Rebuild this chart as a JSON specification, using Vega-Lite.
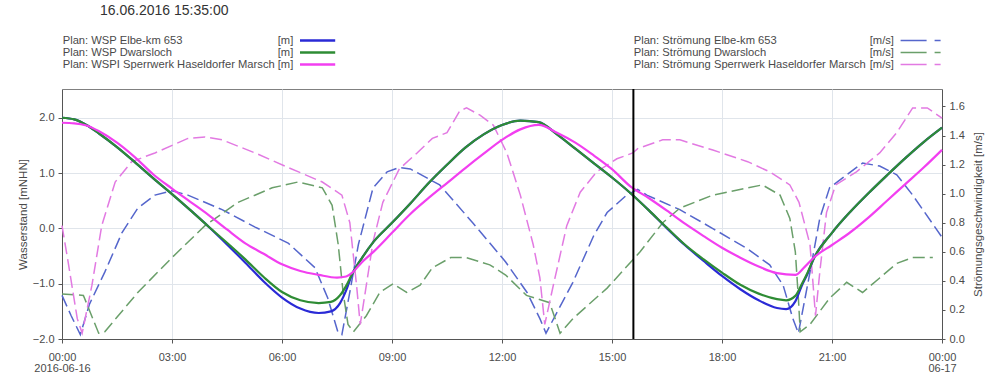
{
  "$schema": "https://vega.github.io/schema/vega-lite/v6.json",
  "width": 880,
  "height": 250,
  "autosize": {"type": "none"},
  "padding": {"left": 62, "top": 89, "right": 46, "bottom": 39},
  "background": "white",
  "title": {"text": "16.06.2016 15:35:00", "anchor": "start", "frame": "group", "dx": 38, "offset": 17, "fontSize": 14, "fontWeight": "normal", "color": "#333333"},
  "config": {
    "font": "Liberation Sans",
    "view": {"stroke": "#808080", "strokeWidth": 1},
    "axis": {"labelFontSize": 11, "labelColor": "#4a4a4a", "titleFontSize": 11.5, "titleFontWeight": "normal", "titleColor": "#4a4a4a", "domainColor": "#555555", "tickColor": "#555555", "gridColor": "#e0e5eb"},
    "legend": {"labelFontSize": 11.2, "labelColor": "#4a4a4a", "padding": 0, "rowPadding": 0, "labelLimit": 400}
  },
  "datasets": {
    "waterlevel": [
      {"time": "2016-06-16T00:00", "series": "Plan: WSP Elbe-km 653", "value": 2.00},
      {"time": "2016-06-16T00:20", "series": "Plan: WSP Elbe-km 653", "value": 1.97},
      {"time": "2016-06-16T00:40", "series": "Plan: WSP Elbe-km 653", "value": 1.87},
      {"time": "2016-06-16T01:00", "series": "Plan: WSP Elbe-km 653", "value": 1.72},
      {"time": "2016-06-16T01:30", "series": "Plan: WSP Elbe-km 653", "value": 1.47},
      {"time": "2016-06-16T02:00", "series": "Plan: WSP Elbe-km 653", "value": 1.19},
      {"time": "2016-06-16T02:30", "series": "Plan: WSP Elbe-km 653", "value": 0.90},
      {"time": "2016-06-16T03:00", "series": "Plan: WSP Elbe-km 653", "value": 0.62},
      {"time": "2016-06-16T03:30", "series": "Plan: WSP Elbe-km 653", "value": 0.33},
      {"time": "2016-06-16T04:00", "series": "Plan: WSP Elbe-km 653", "value": 0.03},
      {"time": "2016-06-16T04:30", "series": "Plan: WSP Elbe-km 653", "value": -0.29},
      {"time": "2016-06-16T05:00", "series": "Plan: WSP Elbe-km 653", "value": -0.62},
      {"time": "2016-06-16T05:30", "series": "Plan: WSP Elbe-km 653", "value": -0.96},
      {"time": "2016-06-16T06:00", "series": "Plan: WSP Elbe-km 653", "value": -1.25},
      {"time": "2016-06-16T06:30", "series": "Plan: WSP Elbe-km 653", "value": -1.45},
      {"time": "2016-06-16T07:00", "series": "Plan: WSP Elbe-km 653", "value": -1.53},
      {"time": "2016-06-16T07:20", "series": "Plan: WSP Elbe-km 653", "value": -1.50},
      {"time": "2016-06-16T07:35", "series": "Plan: WSP Elbe-km 653", "value": -1.35},
      {"time": "2016-06-16T07:45", "series": "Plan: WSP Elbe-km 653", "value": -1.12},
      {"time": "2016-06-16T07:55", "series": "Plan: WSP Elbe-km 653", "value": -0.82},
      {"time": "2016-06-16T08:10", "series": "Plan: WSP Elbe-km 653", "value": -0.55},
      {"time": "2016-06-16T08:30", "series": "Plan: WSP Elbe-km 653", "value": -0.24},
      {"time": "2016-06-16T09:00", "series": "Plan: WSP Elbe-km 653", "value": 0.10},
      {"time": "2016-06-16T09:30", "series": "Plan: WSP Elbe-km 653", "value": 0.45},
      {"time": "2016-06-16T10:00", "series": "Plan: WSP Elbe-km 653", "value": 0.82},
      {"time": "2016-06-16T10:30", "series": "Plan: WSP Elbe-km 653", "value": 1.15},
      {"time": "2016-06-16T11:00", "series": "Plan: WSP Elbe-km 653", "value": 1.46},
      {"time": "2016-06-16T11:30", "series": "Plan: WSP Elbe-km 653", "value": 1.70},
      {"time": "2016-06-16T12:00", "series": "Plan: WSP Elbe-km 653", "value": 1.87},
      {"time": "2016-06-16T12:30", "series": "Plan: WSP Elbe-km 653", "value": 1.95},
      {"time": "2016-06-16T13:00", "series": "Plan: WSP Elbe-km 653", "value": 1.92},
      {"time": "2016-06-16T13:30", "series": "Plan: WSP Elbe-km 653", "value": 1.70},
      {"time": "2016-06-16T14:00", "series": "Plan: WSP Elbe-km 653", "value": 1.44},
      {"time": "2016-06-16T14:30", "series": "Plan: WSP Elbe-km 653", "value": 1.18},
      {"time": "2016-06-16T15:00", "series": "Plan: WSP Elbe-km 653", "value": 0.92},
      {"time": "2016-06-16T15:30", "series": "Plan: WSP Elbe-km 653", "value": 0.64},
      {"time": "2016-06-16T16:00", "series": "Plan: WSP Elbe-km 653", "value": 0.33},
      {"time": "2016-06-16T16:30", "series": "Plan: WSP Elbe-km 653", "value": 0.00},
      {"time": "2016-06-16T17:00", "series": "Plan: WSP Elbe-km 653", "value": -0.31},
      {"time": "2016-06-16T17:30", "series": "Plan: WSP Elbe-km 653", "value": -0.59},
      {"time": "2016-06-16T18:00", "series": "Plan: WSP Elbe-km 653", "value": -0.86},
      {"time": "2016-06-16T18:30", "series": "Plan: WSP Elbe-km 653", "value": -1.10},
      {"time": "2016-06-16T19:00", "series": "Plan: WSP Elbe-km 653", "value": -1.30},
      {"time": "2016-06-16T19:30", "series": "Plan: WSP Elbe-km 653", "value": -1.44},
      {"time": "2016-06-16T19:45", "series": "Plan: WSP Elbe-km 653", "value": -1.46},
      {"time": "2016-06-16T20:00", "series": "Plan: WSP Elbe-km 653", "value": -1.32},
      {"time": "2016-06-16T20:10", "series": "Plan: WSP Elbe-km 653", "value": -1.05},
      {"time": "2016-06-16T20:20", "series": "Plan: WSP Elbe-km 653", "value": -0.82},
      {"time": "2016-06-16T20:30", "series": "Plan: WSP Elbe-km 653", "value": -0.55},
      {"time": "2016-06-16T21:00", "series": "Plan: WSP Elbe-km 653", "value": -0.08},
      {"time": "2016-06-16T21:30", "series": "Plan: WSP Elbe-km 653", "value": 0.30},
      {"time": "2016-06-16T22:00", "series": "Plan: WSP Elbe-km 653", "value": 0.64},
      {"time": "2016-06-16T22:30", "series": "Plan: WSP Elbe-km 653", "value": 0.96},
      {"time": "2016-06-16T23:00", "series": "Plan: WSP Elbe-km 653", "value": 1.27},
      {"time": "2016-06-16T23:30", "series": "Plan: WSP Elbe-km 653", "value": 1.56},
      {"time": "2016-06-17T00:00", "series": "Plan: WSP Elbe-km 653", "value": 1.82},

      {"time": "2016-06-16T00:00", "series": "Plan: WSP Dwarsloch", "value": 2.00},
      {"time": "2016-06-16T00:20", "series": "Plan: WSP Dwarsloch", "value": 1.97},
      {"time": "2016-06-16T00:40", "series": "Plan: WSP Dwarsloch", "value": 1.87},
      {"time": "2016-06-16T01:00", "series": "Plan: WSP Dwarsloch", "value": 1.72},
      {"time": "2016-06-16T01:30", "series": "Plan: WSP Dwarsloch", "value": 1.47},
      {"time": "2016-06-16T02:00", "series": "Plan: WSP Dwarsloch", "value": 1.19},
      {"time": "2016-06-16T02:30", "series": "Plan: WSP Dwarsloch", "value": 0.90},
      {"time": "2016-06-16T03:00", "series": "Plan: WSP Dwarsloch", "value": 0.62},
      {"time": "2016-06-16T03:30", "series": "Plan: WSP Dwarsloch", "value": 0.33},
      {"time": "2016-06-16T04:00", "series": "Plan: WSP Dwarsloch", "value": 0.03},
      {"time": "2016-06-16T04:30", "series": "Plan: WSP Dwarsloch", "value": -0.26},
      {"time": "2016-06-16T05:00", "series": "Plan: WSP Dwarsloch", "value": -0.56},
      {"time": "2016-06-16T05:30", "series": "Plan: WSP Dwarsloch", "value": -0.88},
      {"time": "2016-06-16T06:00", "series": "Plan: WSP Dwarsloch", "value": -1.15},
      {"time": "2016-06-16T06:30", "series": "Plan: WSP Dwarsloch", "value": -1.30},
      {"time": "2016-06-16T07:00", "series": "Plan: WSP Dwarsloch", "value": -1.35},
      {"time": "2016-06-16T07:20", "series": "Plan: WSP Dwarsloch", "value": -1.33},
      {"time": "2016-06-16T07:35", "series": "Plan: WSP Dwarsloch", "value": -1.21},
      {"time": "2016-06-16T07:45", "series": "Plan: WSP Dwarsloch", "value": -1.04},
      {"time": "2016-06-16T07:55", "series": "Plan: WSP Dwarsloch", "value": -0.82},
      {"time": "2016-06-16T08:10", "series": "Plan: WSP Dwarsloch", "value": -0.55},
      {"time": "2016-06-16T08:30", "series": "Plan: WSP Dwarsloch", "value": -0.24},
      {"time": "2016-06-16T09:00", "series": "Plan: WSP Dwarsloch", "value": 0.10},
      {"time": "2016-06-16T09:30", "series": "Plan: WSP Dwarsloch", "value": 0.45},
      {"time": "2016-06-16T10:00", "series": "Plan: WSP Dwarsloch", "value": 0.82},
      {"time": "2016-06-16T10:30", "series": "Plan: WSP Dwarsloch", "value": 1.15},
      {"time": "2016-06-16T11:00", "series": "Plan: WSP Dwarsloch", "value": 1.46},
      {"time": "2016-06-16T11:30", "series": "Plan: WSP Dwarsloch", "value": 1.70},
      {"time": "2016-06-16T12:00", "series": "Plan: WSP Dwarsloch", "value": 1.87},
      {"time": "2016-06-16T12:30", "series": "Plan: WSP Dwarsloch", "value": 1.95},
      {"time": "2016-06-16T13:00", "series": "Plan: WSP Dwarsloch", "value": 1.92},
      {"time": "2016-06-16T13:30", "series": "Plan: WSP Dwarsloch", "value": 1.70},
      {"time": "2016-06-16T14:00", "series": "Plan: WSP Dwarsloch", "value": 1.44},
      {"time": "2016-06-16T14:30", "series": "Plan: WSP Dwarsloch", "value": 1.18},
      {"time": "2016-06-16T15:00", "series": "Plan: WSP Dwarsloch", "value": 0.92},
      {"time": "2016-06-16T15:30", "series": "Plan: WSP Dwarsloch", "value": 0.64},
      {"time": "2016-06-16T16:00", "series": "Plan: WSP Dwarsloch", "value": 0.33},
      {"time": "2016-06-16T16:30", "series": "Plan: WSP Dwarsloch", "value": 0.01},
      {"time": "2016-06-16T17:00", "series": "Plan: WSP Dwarsloch", "value": -0.30},
      {"time": "2016-06-16T17:30", "series": "Plan: WSP Dwarsloch", "value": -0.56},
      {"time": "2016-06-16T18:00", "series": "Plan: WSP Dwarsloch", "value": -0.80},
      {"time": "2016-06-16T18:30", "series": "Plan: WSP Dwarsloch", "value": -1.02},
      {"time": "2016-06-16T19:00", "series": "Plan: WSP Dwarsloch", "value": -1.18},
      {"time": "2016-06-16T19:30", "series": "Plan: WSP Dwarsloch", "value": -1.28},
      {"time": "2016-06-16T19:45", "series": "Plan: WSP Dwarsloch", "value": -1.30},
      {"time": "2016-06-16T20:00", "series": "Plan: WSP Dwarsloch", "value": -1.22},
      {"time": "2016-06-16T20:10", "series": "Plan: WSP Dwarsloch", "value": -1.02},
      {"time": "2016-06-16T20:20", "series": "Plan: WSP Dwarsloch", "value": -0.80},
      {"time": "2016-06-16T20:30", "series": "Plan: WSP Dwarsloch", "value": -0.55},
      {"time": "2016-06-16T21:00", "series": "Plan: WSP Dwarsloch", "value": -0.08},
      {"time": "2016-06-16T21:30", "series": "Plan: WSP Dwarsloch", "value": 0.30},
      {"time": "2016-06-16T22:00", "series": "Plan: WSP Dwarsloch", "value": 0.64},
      {"time": "2016-06-16T22:30", "series": "Plan: WSP Dwarsloch", "value": 0.96},
      {"time": "2016-06-16T23:00", "series": "Plan: WSP Dwarsloch", "value": 1.27},
      {"time": "2016-06-16T23:30", "series": "Plan: WSP Dwarsloch", "value": 1.56},
      {"time": "2016-06-17T00:00", "series": "Plan: WSP Dwarsloch", "value": 1.82},

      {"time": "2016-06-16T00:00", "series": "Plan: WSPI Sperrwerk Haseldorfer Marsch", "value": 1.91},
      {"time": "2016-06-16T00:20", "series": "Plan: WSPI Sperrwerk Haseldorfer Marsch", "value": 1.90},
      {"time": "2016-06-16T00:40", "series": "Plan: WSPI Sperrwerk Haseldorfer Marsch", "value": 1.86},
      {"time": "2016-06-16T01:00", "series": "Plan: WSPI Sperrwerk Haseldorfer Marsch", "value": 1.76},
      {"time": "2016-06-16T01:30", "series": "Plan: WSPI Sperrwerk Haseldorfer Marsch", "value": 1.55},
      {"time": "2016-06-16T02:00", "series": "Plan: WSPI Sperrwerk Haseldorfer Marsch", "value": 1.28},
      {"time": "2016-06-16T02:30", "series": "Plan: WSPI Sperrwerk Haseldorfer Marsch", "value": 0.97},
      {"time": "2016-06-16T03:00", "series": "Plan: WSPI Sperrwerk Haseldorfer Marsch", "value": 0.72},
      {"time": "2016-06-16T03:30", "series": "Plan: WSPI Sperrwerk Haseldorfer Marsch", "value": 0.48},
      {"time": "2016-06-16T04:00", "series": "Plan: WSPI Sperrwerk Haseldorfer Marsch", "value": 0.24},
      {"time": "2016-06-16T04:30", "series": "Plan: WSPI Sperrwerk Haseldorfer Marsch", "value": -0.02},
      {"time": "2016-06-16T05:00", "series": "Plan: WSPI Sperrwerk Haseldorfer Marsch", "value": -0.27},
      {"time": "2016-06-16T05:30", "series": "Plan: WSPI Sperrwerk Haseldorfer Marsch", "value": -0.46},
      {"time": "2016-06-16T06:00", "series": "Plan: WSPI Sperrwerk Haseldorfer Marsch", "value": -0.65},
      {"time": "2016-06-16T06:30", "series": "Plan: WSPI Sperrwerk Haseldorfer Marsch", "value": -0.77},
      {"time": "2016-06-16T07:00", "series": "Plan: WSPI Sperrwerk Haseldorfer Marsch", "value": -0.84},
      {"time": "2016-06-16T07:30", "series": "Plan: WSPI Sperrwerk Haseldorfer Marsch", "value": -0.89},
      {"time": "2016-06-16T07:45", "series": "Plan: WSPI Sperrwerk Haseldorfer Marsch", "value": -0.87},
      {"time": "2016-06-16T07:55", "series": "Plan: WSPI Sperrwerk Haseldorfer Marsch", "value": -0.80},
      {"time": "2016-06-16T08:10", "series": "Plan: WSPI Sperrwerk Haseldorfer Marsch", "value": -0.62},
      {"time": "2016-06-16T08:30", "series": "Plan: WSPI Sperrwerk Haseldorfer Marsch", "value": -0.42},
      {"time": "2016-06-16T09:00", "series": "Plan: WSPI Sperrwerk Haseldorfer Marsch", "value": -0.08},
      {"time": "2016-06-16T09:30", "series": "Plan: WSPI Sperrwerk Haseldorfer Marsch", "value": 0.26},
      {"time": "2016-06-16T10:00", "series": "Plan: WSPI Sperrwerk Haseldorfer Marsch", "value": 0.55},
      {"time": "2016-06-16T10:30", "series": "Plan: WSPI Sperrwerk Haseldorfer Marsch", "value": 0.82},
      {"time": "2016-06-16T11:00", "series": "Plan: WSPI Sperrwerk Haseldorfer Marsch", "value": 1.09},
      {"time": "2016-06-16T11:30", "series": "Plan: WSPI Sperrwerk Haseldorfer Marsch", "value": 1.35},
      {"time": "2016-06-16T12:00", "series": "Plan: WSPI Sperrwerk Haseldorfer Marsch", "value": 1.60},
      {"time": "2016-06-16T12:30", "series": "Plan: WSPI Sperrwerk Haseldorfer Marsch", "value": 1.79},
      {"time": "2016-06-16T13:00", "series": "Plan: WSPI Sperrwerk Haseldorfer Marsch", "value": 1.87},
      {"time": "2016-06-16T13:30", "series": "Plan: WSPI Sperrwerk Haseldorfer Marsch", "value": 1.73},
      {"time": "2016-06-16T14:00", "series": "Plan: WSPI Sperrwerk Haseldorfer Marsch", "value": 1.55},
      {"time": "2016-06-16T14:30", "series": "Plan: WSPI Sperrwerk Haseldorfer Marsch", "value": 1.32},
      {"time": "2016-06-16T15:00", "series": "Plan: WSPI Sperrwerk Haseldorfer Marsch", "value": 1.07},
      {"time": "2016-06-16T15:30", "series": "Plan: WSPI Sperrwerk Haseldorfer Marsch", "value": 0.76},
      {"time": "2016-06-16T16:00", "series": "Plan: WSPI Sperrwerk Haseldorfer Marsch", "value": 0.55},
      {"time": "2016-06-16T16:30", "series": "Plan: WSPI Sperrwerk Haseldorfer Marsch", "value": 0.32},
      {"time": "2016-06-16T17:00", "series": "Plan: WSPI Sperrwerk Haseldorfer Marsch", "value": 0.08},
      {"time": "2016-06-16T17:30", "series": "Plan: WSPI Sperrwerk Haseldorfer Marsch", "value": -0.14},
      {"time": "2016-06-16T18:00", "series": "Plan: WSPI Sperrwerk Haseldorfer Marsch", "value": -0.35},
      {"time": "2016-06-16T18:30", "series": "Plan: WSPI Sperrwerk Haseldorfer Marsch", "value": -0.53},
      {"time": "2016-06-16T19:00", "series": "Plan: WSPI Sperrwerk Haseldorfer Marsch", "value": -0.69},
      {"time": "2016-06-16T19:30", "series": "Plan: WSPI Sperrwerk Haseldorfer Marsch", "value": -0.81},
      {"time": "2016-06-16T20:00", "series": "Plan: WSPI Sperrwerk Haseldorfer Marsch", "value": -0.84},
      {"time": "2016-06-16T20:15", "series": "Plan: WSPI Sperrwerk Haseldorfer Marsch", "value": -0.70},
      {"time": "2016-06-16T20:30", "series": "Plan: WSPI Sperrwerk Haseldorfer Marsch", "value": -0.53},
      {"time": "2016-06-16T21:00", "series": "Plan: WSPI Sperrwerk Haseldorfer Marsch", "value": -0.30},
      {"time": "2016-06-16T21:30", "series": "Plan: WSPI Sperrwerk Haseldorfer Marsch", "value": -0.07},
      {"time": "2016-06-16T22:00", "series": "Plan: WSPI Sperrwerk Haseldorfer Marsch", "value": 0.20},
      {"time": "2016-06-16T22:30", "series": "Plan: WSPI Sperrwerk Haseldorfer Marsch", "value": 0.50},
      {"time": "2016-06-16T23:00", "series": "Plan: WSPI Sperrwerk Haseldorfer Marsch", "value": 0.80},
      {"time": "2016-06-16T23:30", "series": "Plan: WSPI Sperrwerk Haseldorfer Marsch", "value": 1.10},
      {"time": "2016-06-17T00:00", "series": "Plan: WSPI Sperrwerk Haseldorfer Marsch", "value": 1.42}
    ],
    "velocity": [
      {"time": "2016-06-16T00:00", "series": "Plan: Strömung Elbe-km 653", "value": 0.30},
      {"time": "2016-06-16T00:15", "series": "Plan: Strömung Elbe-km 653", "value": 0.16},
      {"time": "2016-06-16T00:30", "series": "Plan: Strömung Elbe-km 653", "value": 0.03},
      {"time": "2016-06-16T00:45", "series": "Plan: Strömung Elbe-km 653", "value": 0.24},
      {"time": "2016-06-16T01:10", "series": "Plan: Strömung Elbe-km 653", "value": 0.46},
      {"time": "2016-06-16T01:38", "series": "Plan: Strömung Elbe-km 653", "value": 0.73},
      {"time": "2016-06-16T02:04", "series": "Plan: Strömung Elbe-km 653", "value": 0.90},
      {"time": "2016-06-16T02:32", "series": "Plan: Strömung Elbe-km 653", "value": 0.99},
      {"time": "2016-06-16T03:00", "series": "Plan: Strömung Elbe-km 653", "value": 1.02},
      {"time": "2016-06-16T03:26", "series": "Plan: Strömung Elbe-km 653", "value": 0.99},
      {"time": "2016-06-16T04:22", "series": "Plan: Strömung Elbe-km 653", "value": 0.89},
      {"time": "2016-06-16T05:16", "series": "Plan: Strömung Elbe-km 653", "value": 0.77},
      {"time": "2016-06-16T06:10", "series": "Plan: Strömung Elbe-km 653", "value": 0.66},
      {"time": "2016-06-16T06:54", "series": "Plan: Strömung Elbe-km 653", "value": 0.49},
      {"time": "2016-06-16T07:15", "series": "Plan: Strömung Elbe-km 653", "value": 0.28},
      {"time": "2016-06-16T07:32", "series": "Plan: Strömung Elbe-km 653", "value": 0.04},
      {"time": "2016-06-16T07:38", "series": "Plan: Strömung Elbe-km 653", "value": 0.03},
      {"time": "2016-06-16T07:50", "series": "Plan: Strömung Elbe-km 653", "value": 0.30},
      {"time": "2016-06-16T08:05", "series": "Plan: Strömung Elbe-km 653", "value": 0.65},
      {"time": "2016-06-16T08:29", "series": "Plan: Strömung Elbe-km 653", "value": 1.04},
      {"time": "2016-06-16T08:52", "series": "Plan: Strömung Elbe-km 653", "value": 1.15},
      {"time": "2016-06-16T09:12", "series": "Plan: Strömung Elbe-km 653", "value": 1.18},
      {"time": "2016-06-16T09:30", "series": "Plan: Strömung Elbe-km 653", "value": 1.17},
      {"time": "2016-06-16T10:18", "series": "Plan: Strömung Elbe-km 653", "value": 1.06},
      {"time": "2016-06-16T11:12", "series": "Plan: Strömung Elbe-km 653", "value": 0.80},
      {"time": "2016-06-16T12:06", "series": "Plan: Strömung Elbe-km 653", "value": 0.53},
      {"time": "2016-06-16T12:41", "series": "Plan: Strömung Elbe-km 653", "value": 0.32},
      {"time": "2016-06-16T13:02", "series": "Plan: Strömung Elbe-km 653", "value": 0.14},
      {"time": "2016-06-16T13:12", "series": "Plan: Strömung Elbe-km 653", "value": 0.04},
      {"time": "2016-06-16T13:56", "series": "Plan: Strömung Elbe-km 653", "value": 0.39},
      {"time": "2016-06-16T14:30", "series": "Plan: Strömung Elbe-km 653", "value": 0.71},
      {"time": "2016-06-16T14:52", "series": "Plan: Strömung Elbe-km 653", "value": 0.87},
      {"time": "2016-06-16T15:24", "series": "Plan: Strömung Elbe-km 653", "value": 0.99},
      {"time": "2016-06-16T15:42", "series": "Plan: Strömung Elbe-km 653", "value": 1.03},
      {"time": "2016-06-16T15:57", "series": "Plan: Strömung Elbe-km 653", "value": 0.99},
      {"time": "2016-06-16T16:51", "series": "Plan: Strömung Elbe-km 653", "value": 0.89},
      {"time": "2016-06-16T17:45", "series": "Plan: Strömung Elbe-km 653", "value": 0.76},
      {"time": "2016-06-16T18:42", "series": "Plan: Strömung Elbe-km 653", "value": 0.62},
      {"time": "2016-06-16T19:18", "series": "Plan: Strömung Elbe-km 653", "value": 0.51},
      {"time": "2016-06-16T19:40", "series": "Plan: Strömung Elbe-km 653", "value": 0.37},
      {"time": "2016-06-16T19:56", "series": "Plan: Strömung Elbe-km 653", "value": 0.14},
      {"time": "2016-06-16T20:05", "series": "Plan: Strömung Elbe-km 653", "value": 0.04},
      {"time": "2016-06-16T20:24", "series": "Plan: Strömung Elbe-km 653", "value": 0.46},
      {"time": "2016-06-16T20:40", "series": "Plan: Strömung Elbe-km 653", "value": 0.83},
      {"time": "2016-06-16T20:56", "series": "Plan: Strömung Elbe-km 653", "value": 1.04},
      {"time": "2016-06-16T21:24", "series": "Plan: Strömung Elbe-km 653", "value": 1.13},
      {"time": "2016-06-16T21:50", "series": "Plan: Strömung Elbe-km 653", "value": 1.21},
      {"time": "2016-06-16T22:18", "series": "Plan: Strömung Elbe-km 653", "value": 1.19},
      {"time": "2016-06-16T22:46", "series": "Plan: Strömung Elbe-km 653", "value": 1.13},
      {"time": "2016-06-16T23:12", "series": "Plan: Strömung Elbe-km 653", "value": 0.99},
      {"time": "2016-06-17T00:00", "series": "Plan: Strömung Elbe-km 653", "value": 0.70},

      {"time": "2016-06-16T00:00", "series": "Plan: Strömung Dwarsloch", "value": 0.31},
      {"time": "2016-06-16T00:35", "series": "Plan: Strömung Dwarsloch", "value": 0.30},
      {"time": "2016-06-16T01:00", "series": "Plan: Strömung Dwarsloch", "value": 0.04},
      {"time": "2016-06-16T01:10", "series": "Plan: Strömung Dwarsloch", "value": 0.05},
      {"time": "2016-06-16T02:04", "series": "Plan: Strömung Dwarsloch", "value": 0.32},
      {"time": "2016-06-16T03:00", "series": "Plan: Strömung Dwarsloch", "value": 0.56},
      {"time": "2016-06-16T03:54", "series": "Plan: Strömung Dwarsloch", "value": 0.78},
      {"time": "2016-06-16T04:48", "series": "Plan: Strömung Dwarsloch", "value": 0.94},
      {"time": "2016-06-16T05:44", "series": "Plan: Strömung Dwarsloch", "value": 1.04},
      {"time": "2016-06-16T06:26", "series": "Plan: Strömung Dwarsloch", "value": 1.08},
      {"time": "2016-06-16T07:06", "series": "Plan: Strömung Dwarsloch", "value": 1.04},
      {"time": "2016-06-16T07:22", "series": "Plan: Strömung Dwarsloch", "value": 0.92},
      {"time": "2016-06-16T07:32", "series": "Plan: Strömung Dwarsloch", "value": 0.65},
      {"time": "2016-06-16T07:40", "series": "Plan: Strömung Dwarsloch", "value": 0.32},
      {"time": "2016-06-16T07:48", "series": "Plan: Strömung Dwarsloch", "value": 0.10},
      {"time": "2016-06-16T07:57", "series": "Plan: Strömung Dwarsloch", "value": 0.05},
      {"time": "2016-06-16T08:18", "series": "Plan: Strömung Dwarsloch", "value": 0.16},
      {"time": "2016-06-16T08:40", "series": "Plan: Strömung Dwarsloch", "value": 0.32},
      {"time": "2016-06-16T09:02", "series": "Plan: Strömung Dwarsloch", "value": 0.38},
      {"time": "2016-06-16T09:24", "series": "Plan: Strömung Dwarsloch", "value": 0.32},
      {"time": "2016-06-16T09:46", "series": "Plan: Strömung Dwarsloch", "value": 0.37},
      {"time": "2016-06-16T10:06", "series": "Plan: Strömung Dwarsloch", "value": 0.49},
      {"time": "2016-06-16T10:36", "series": "Plan: Strömung Dwarsloch", "value": 0.56},
      {"time": "2016-06-16T11:02", "series": "Plan: Strömung Dwarsloch", "value": 0.56},
      {"time": "2016-06-16T11:40", "series": "Plan: Strömung Dwarsloch", "value": 0.51},
      {"time": "2016-06-16T12:06", "series": "Plan: Strömung Dwarsloch", "value": 0.44},
      {"time": "2016-06-16T12:40", "series": "Plan: Strömung Dwarsloch", "value": 0.30},
      {"time": "2016-06-16T13:18", "series": "Plan: Strömung Dwarsloch", "value": 0.25},
      {"time": "2016-06-16T13:35", "series": "Plan: Strömung Dwarsloch", "value": 0.04},
      {"time": "2016-06-16T13:56", "series": "Plan: Strömung Dwarsloch", "value": 0.14},
      {"time": "2016-06-16T14:52", "series": "Plan: Strömung Dwarsloch", "value": 0.35},
      {"time": "2016-06-16T15:46", "series": "Plan: Strömung Dwarsloch", "value": 0.60},
      {"time": "2016-06-16T16:23", "series": "Plan: Strömung Dwarsloch", "value": 0.80},
      {"time": "2016-06-16T16:51", "series": "Plan: Strömung Dwarsloch", "value": 0.90},
      {"time": "2016-06-16T17:45", "series": "Plan: Strömung Dwarsloch", "value": 0.99},
      {"time": "2016-06-16T18:42", "series": "Plan: Strömung Dwarsloch", "value": 1.04},
      {"time": "2016-06-16T19:06", "series": "Plan: Strömung Dwarsloch", "value": 1.06},
      {"time": "2016-06-16T19:35", "series": "Plan: Strömung Dwarsloch", "value": 0.99},
      {"time": "2016-06-16T19:51", "series": "Plan: Strömung Dwarsloch", "value": 0.83},
      {"time": "2016-06-16T20:00", "series": "Plan: Strömung Dwarsloch", "value": 0.60},
      {"time": "2016-06-16T20:05", "series": "Plan: Strömung Dwarsloch", "value": 0.28},
      {"time": "2016-06-16T20:08", "series": "Plan: Strömung Dwarsloch", "value": 0.05},
      {"time": "2016-06-16T20:24", "series": "Plan: Strömung Dwarsloch", "value": 0.10},
      {"time": "2016-06-16T20:56", "series": "Plan: Strömung Dwarsloch", "value": 0.28},
      {"time": "2016-06-16T21:24", "series": "Plan: Strömung Dwarsloch", "value": 0.39},
      {"time": "2016-06-16T21:50", "series": "Plan: Strömung Dwarsloch", "value": 0.32},
      {"time": "2016-06-16T22:18", "series": "Plan: Strömung Dwarsloch", "value": 0.42},
      {"time": "2016-06-16T22:46", "series": "Plan: Strömung Dwarsloch", "value": 0.52},
      {"time": "2016-06-16T23:12", "series": "Plan: Strömung Dwarsloch", "value": 0.56},
      {"time": "2016-06-16T23:45", "series": "Plan: Strömung Dwarsloch", "value": 0.56},

      {"time": "2016-06-16T00:00", "series": "Plan: Strömung Sperrwerk Haseldorfer Marsch", "value": 0.78},
      {"time": "2016-06-16T00:10", "series": "Plan: Strömung Sperrwerk Haseldorfer Marsch", "value": 0.53},
      {"time": "2016-06-16T00:25", "series": "Plan: Strömung Sperrwerk Haseldorfer Marsch", "value": 0.14},
      {"time": "2016-06-16T00:33", "series": "Plan: Strömung Sperrwerk Haseldorfer Marsch", "value": 0.04},
      {"time": "2016-06-16T00:49", "series": "Plan: Strömung Sperrwerk Haseldorfer Marsch", "value": 0.37},
      {"time": "2016-06-16T01:05", "series": "Plan: Strömung Sperrwerk Haseldorfer Marsch", "value": 0.78},
      {"time": "2016-06-16T01:27", "series": "Plan: Strömung Sperrwerk Haseldorfer Marsch", "value": 1.08},
      {"time": "2016-06-16T01:54", "series": "Plan: Strömung Sperrwerk Haseldorfer Marsch", "value": 1.22},
      {"time": "2016-06-16T02:32", "series": "Plan: Strömung Sperrwerk Haseldorfer Marsch", "value": 1.28},
      {"time": "2016-06-16T03:26", "series": "Plan: Strömung Sperrwerk Haseldorfer Marsch", "value": 1.38},
      {"time": "2016-06-16T03:54", "series": "Plan: Strömung Sperrwerk Haseldorfer Marsch", "value": 1.39},
      {"time": "2016-06-16T04:22", "series": "Plan: Strömung Sperrwerk Haseldorfer Marsch", "value": 1.37},
      {"time": "2016-06-16T05:16", "series": "Plan: Strömung Sperrwerk Haseldorfer Marsch", "value": 1.28},
      {"time": "2016-06-16T06:10", "series": "Plan: Strömung Sperrwerk Haseldorfer Marsch", "value": 1.18},
      {"time": "2016-06-16T07:06", "series": "Plan: Strömung Sperrwerk Haseldorfer Marsch", "value": 1.08},
      {"time": "2016-06-16T07:38", "series": "Plan: Strömung Sperrwerk Haseldorfer Marsch", "value": 0.99},
      {"time": "2016-06-16T07:51", "series": "Plan: Strömung Sperrwerk Haseldorfer Marsch", "value": 0.80},
      {"time": "2016-06-16T08:02", "series": "Plan: Strömung Sperrwerk Haseldorfer Marsch", "value": 0.37},
      {"time": "2016-06-16T08:08", "series": "Plan: Strömung Sperrwerk Haseldorfer Marsch", "value": 0.10},
      {"time": "2016-06-16T08:18", "series": "Plan: Strömung Sperrwerk Haseldorfer Marsch", "value": 0.37},
      {"time": "2016-06-16T08:29", "series": "Plan: Strömung Sperrwerk Haseldorfer Marsch", "value": 0.67},
      {"time": "2016-06-16T08:45", "series": "Plan: Strömung Sperrwerk Haseldorfer Marsch", "value": 0.94},
      {"time": "2016-06-16T09:12", "series": "Plan: Strömung Sperrwerk Haseldorfer Marsch", "value": 1.17},
      {"time": "2016-06-16T09:41", "series": "Plan: Strömung Sperrwerk Haseldorfer Marsch", "value": 1.28},
      {"time": "2016-06-16T10:06", "series": "Plan: Strömung Sperrwerk Haseldorfer Marsch", "value": 1.38},
      {"time": "2016-06-16T10:30", "series": "Plan: Strömung Sperrwerk Haseldorfer Marsch", "value": 1.42},
      {"time": "2016-06-16T10:51", "series": "Plan: Strömung Sperrwerk Haseldorfer Marsch", "value": 1.57},
      {"time": "2016-06-16T11:02", "series": "Plan: Strömung Sperrwerk Haseldorfer Marsch", "value": 1.59},
      {"time": "2016-06-16T11:24", "series": "Plan: Strömung Sperrwerk Haseldorfer Marsch", "value": 1.54},
      {"time": "2016-06-16T11:46", "series": "Plan: Strömung Sperrwerk Haseldorfer Marsch", "value": 1.47},
      {"time": "2016-06-16T12:08", "series": "Plan: Strömung Sperrwerk Haseldorfer Marsch", "value": 1.28},
      {"time": "2016-06-16T12:30", "series": "Plan: Strömung Sperrwerk Haseldorfer Marsch", "value": 0.99},
      {"time": "2016-06-16T12:51", "series": "Plan: Strömung Sperrwerk Haseldorfer Marsch", "value": 0.65},
      {"time": "2016-06-16T13:02", "series": "Plan: Strömung Sperrwerk Haseldorfer Marsch", "value": 0.42},
      {"time": "2016-06-16T13:10", "series": "Plan: Strömung Sperrwerk Haseldorfer Marsch", "value": 0.10},
      {"time": "2016-06-16T13:24", "series": "Plan: Strömung Sperrwerk Haseldorfer Marsch", "value": 0.37},
      {"time": "2016-06-16T13:46", "series": "Plan: Strömung Sperrwerk Haseldorfer Marsch", "value": 0.78},
      {"time": "2016-06-16T14:08", "series": "Plan: Strömung Sperrwerk Haseldorfer Marsch", "value": 1.01},
      {"time": "2016-06-16T14:35", "series": "Plan: Strömung Sperrwerk Haseldorfer Marsch", "value": 1.15},
      {"time": "2016-06-16T15:08", "series": "Plan: Strömung Sperrwerk Haseldorfer Marsch", "value": 1.24},
      {"time": "2016-06-16T15:34", "series": "Plan: Strömung Sperrwerk Haseldorfer Marsch", "value": 1.28},
      {"time": "2016-06-16T15:42", "series": "Plan: Strömung Sperrwerk Haseldorfer Marsch", "value": 1.31},
      {"time": "2016-06-16T16:23", "series": "Plan: Strömung Sperrwerk Haseldorfer Marsch", "value": 1.37},
      {"time": "2016-06-16T16:51", "series": "Plan: Strömung Sperrwerk Haseldorfer Marsch", "value": 1.37},
      {"time": "2016-06-16T17:45", "series": "Plan: Strömung Sperrwerk Haseldorfer Marsch", "value": 1.30},
      {"time": "2016-06-16T18:42", "series": "Plan: Strömung Sperrwerk Haseldorfer Marsch", "value": 1.22},
      {"time": "2016-06-16T19:18", "series": "Plan: Strömung Sperrwerk Haseldorfer Marsch", "value": 1.15},
      {"time": "2016-06-16T19:51", "series": "Plan: Strömung Sperrwerk Haseldorfer Marsch", "value": 1.06},
      {"time": "2016-06-16T20:06", "series": "Plan: Strömung Sperrwerk Haseldorfer Marsch", "value": 0.94},
      {"time": "2016-06-16T20:24", "series": "Plan: Strömung Sperrwerk Haseldorfer Marsch", "value": 0.65},
      {"time": "2016-06-16T20:33", "series": "Plan: Strömung Sperrwerk Haseldorfer Marsch", "value": 0.16},
      {"time": "2016-06-16T20:40", "series": "Plan: Strömung Sperrwerk Haseldorfer Marsch", "value": 0.46},
      {"time": "2016-06-16T20:51", "series": "Plan: Strömung Sperrwerk Haseldorfer Marsch", "value": 0.87},
      {"time": "2016-06-16T21:06", "series": "Plan: Strömung Sperrwerk Haseldorfer Marsch", "value": 1.06},
      {"time": "2016-06-16T21:40", "series": "Plan: Strömung Sperrwerk Haseldorfer Marsch", "value": 1.15},
      {"time": "2016-06-16T22:18", "series": "Plan: Strömung Sperrwerk Haseldorfer Marsch", "value": 1.28},
      {"time": "2016-06-16T22:46", "series": "Plan: Strömung Sperrwerk Haseldorfer Marsch", "value": 1.42},
      {"time": "2016-06-16T23:12", "series": "Plan: Strömung Sperrwerk Haseldorfer Marsch", "value": 1.59},
      {"time": "2016-06-16T23:36", "series": "Plan: Strömung Sperrwerk Haseldorfer Marsch", "value": 1.59},
      {"time": "2016-06-17T00:00", "series": "Plan: Strömung Sperrwerk Haseldorfer Marsch", "value": 1.52}
    ]
  },
  "layer": [
    {
      "data": {"name": "velocity"},
      "mark": {"type": "line", "strokeWidth": 1.5, "strokeDash": [12, 5]},
      "encoding": {
        "x": {
          "field": "time",
          "type": "temporal",
          "scale": {"nice": false},
          "axis": {"orient": "bottom", "title": null, "tickCount": 8, "tickSize": 4, "labelPadding": 8, "labelOverlap": false, "labelFlush": false, "format": "%H:%M", "grid": true}
        },
        "y": {
          "field": "value",
          "type": "quantitative",
          "scale": {"domain": [0, 1.72], "nice": false, "zero": false},
          "axis": {"orient": "right", "title": "Strömungsgeschwindigkeit [m/s]", "titleAngle": 270, "titleBaseline": "top", "titlePadding": 8, "values": [0, 0.2, 0.4, 0.6, 0.8, 1.0, 1.2, 1.4, 1.6], "format": ".1f", "tickSize": 3, "labelPadding": 4, "grid": false}
        },
        "color": {
          "field": "series",
          "type": "nominal",
          "scale": {"domain": ["Plan: Strömung Elbe-km 653", "Plan: Strömung Dwarsloch", "Plan: Strömung Sperrwerk Haseldorfer Marsch"], "range": ["#5566cc", "#6a9f6a", "#e27ae2"]},
          "legend": {
            "orient": "none", "legendX": 570, "legendY": -54, "title": null,
            "symbolType": "M-5,0H5", "symbolSize": 64, "symbolStrokeWidth": 1.5, "symbolDash": [26, 8],
            "symbolOffset": 283, "labelOffset": -292.5
          }
        },
        "opacity": {
          "field": "series",
          "type": "nominal",
          "scale": {"range": [1, 1]},
          "legend": {
            "orient": "none", "legendX": 806, "legendY": -54, "title": null,
            "symbolSize": 90.25, "symbolStrokeWidth": 0, "labelOffset": -9.5,
            "labelExpr": "'[m/s]'"
          }
        }
      }
    },
    {
      "data": {"name": "waterlevel"},
      "mark": {"type": "line", "strokeWidth": 2.2, "interpolate": "monotone"},
      "encoding": {
        "x": {
          "field": "time",
          "type": "temporal",
          "axis": {"orient": "bottom", "title": null, "tickCount": 8, "ticks": false, "domain": false, "grid": false, "labelPadding": 23, "labelOverlap": false, "labelFlush": false, "labelExpr": "hours(datum.value) == 0 ? (date(datum.value) == 16 ? '2016-06-16' : '06-17') : ''"}
        },
        "y": {
          "field": "value",
          "type": "quantitative",
          "scale": {"domain": [-2, 2.52], "nice": false, "zero": false},
          "axis": {"orient": "left", "title": "Wasserstand [mNHN]", "values": [-2, -1, 0, 1, 2], "format": ".1f", "tickSize": 4, "labelPadding": 4, "grid": true}
        },
        "color": {
          "field": "series",
          "type": "nominal",
          "scale": {"domain": ["Plan: WSP Elbe-km 653", "Plan: WSP Dwarsloch", "Plan: WSPI Sperrwerk Haseldorfer Marsch"], "range": ["#2a2ad6", "#2e8c34", "#f23ff0"]},
          "legend": {
            "orient": "none", "legendX": 0, "legendY": -54, "title": null,
            "symbolType": "M-4.4,0H4.4", "symbolSize": 64, "symbolStrokeWidth": 2.5,
            "symbolOffset": 250, "labelOffset": -260.5
          }
        },
        "opacity": {
          "field": "series",
          "type": "nominal",
          "scale": {"range": [1, 1]},
          "legend": {
            "orient": "none", "legendX": 215, "legendY": -54, "title": null,
            "symbolSize": 110.25, "symbolStrokeWidth": 0, "labelOffset": -10.5,
            "labelExpr": "'[m]'"
          }
        }
      }
    },
    {
      "data": {"values": [{"time": "2016-06-16T15:35"}]},
      "mark": {"type": "rule", "color": "#000000", "strokeWidth": 2},
      "encoding": {
        "x": {"field": "time", "type": "temporal", "axis": null}
      }
    }
  ],
  "resolve": {"scale": {"y": "independent", "color": "independent", "opacity": "independent"}, "axis": {"x": "independent"}}
}
